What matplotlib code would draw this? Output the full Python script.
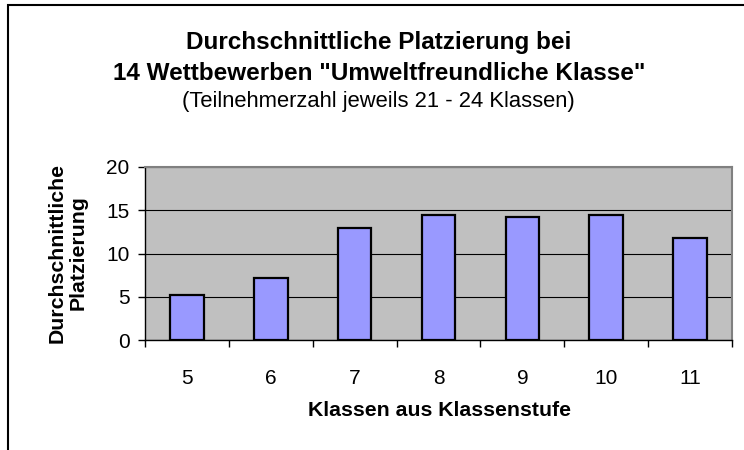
import matplotlib.pyplot as plt
import numpy as np
from matplotlib.patches import Rectangle

plt.rcParams['font.family'] = ['Liberation Sans', 'DejaVu Sans']

# Data
klassenstufen = ["5", "6", "7", "8", "9", "10", "11"]
platzierung = [5.2, 7.2, 12.9, 14.5, 14.2, 14.4, 11.8]

W, H = 744, 450
fig = plt.figure(figsize=(W / 100, H / 100), dpi=100)

# plot area in pixels: left 145, right 732, top 167, bottom 340
ax = fig.add_axes([145 / W, 1 - 340 / H, (732 - 145) / W, (340 - 167) / H])
ax.set_facecolor("#C0C0C0")

x = np.arange(len(klassenstufen))
ax.bar(x, platzierung, width=0.4, color="#9999FF", edgecolor="black",
       linewidth=1.6, zorder=3)

ax.set_xlim(-0.5, len(klassenstufen) - 0.5)
ax.set_ylim(0, 20)
ax.set_yticks([0, 5, 10, 15, 20])
ax.yaxis.grid(True, color="black", linewidth=0.8, zorder=1)
ax.set_axisbelow(True)

# tick marks at category boundaries, labels in the middle
ax.set_xticks(np.arange(-0.5, len(klassenstufen)))
ax.set_xticklabels([])
ax.set_xticks(x, minor=True)
ax.set_xticklabels(klassenstufen, minor=True, fontsize=15)
ax.tick_params(axis="x", which="major", length=5, width=1, direction="out")
ax.tick_params(axis="x", which="minor", length=0, pad=21)
ax.tick_params(axis="y", length=5, width=1, direction="out", labelsize=15, pad=6)

for side in ["top", "right"]:
    ax.spines[side].set_color("#808080")
    ax.spines[side].set_linewidth(1.5)
for side in ["left", "bottom"]:
    ax.spines[side].set_color("black")
    ax.spines[side].set_linewidth(1)

# titles
fig.text(379 / W, 1 - 43 / H, "Durchschnittliche Platzierung bei",
         ha="center", va="center", fontsize=17.5, fontweight="bold")
fig.text(379 / W, 1 - 73 / H, '14 Wettbewerben "Umweltfreundliche Klasse"',
         ha="center", va="center", fontsize=17.5, fontweight="bold")
fig.text(378 / W, 1 - 102 / H, "(Teilnehmerzahl jeweils 21 - 24 Klassen)",
         ha="center", va="center", fontsize=15.8)

# axis labels
fig.text(440 / W, 1 - 410 / H, "Klassen aus Klassenstufe",
         ha="center", va="center", fontsize=15.3, fontweight="bold")
fig.text(67.5 / W, 1 - 253 / H, "Durchschnittliche\nPlatzierung",
         ha="center", va="center", rotation=90, fontsize=15.3,
         fontweight="bold", linespacing=1.15)

# outer chart frame (runs off the right and bottom edges)
fig.patches.append(Rectangle((8 / W, -0.1), 1.0, 1.1 - 5 / H,
                             transform=fig.transFigure, fill=False,
                             edgecolor="black", linewidth=1.5))

fig.savefig("out.png", dpi=100)
